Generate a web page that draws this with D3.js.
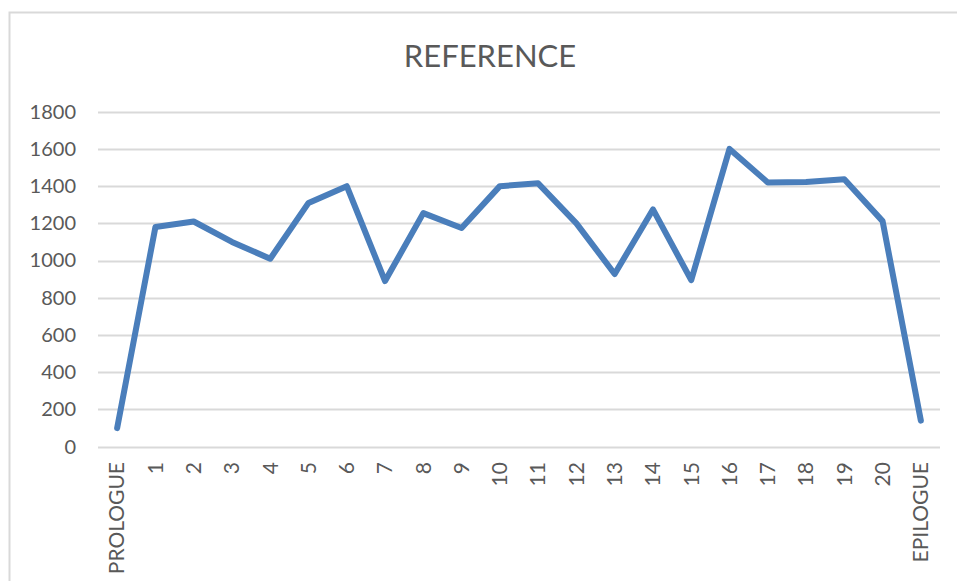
<!DOCTYPE html>
<html lang="en">
  <head>
    <meta charset="utf-8">
    <title>REFERENCE</title>
    <script src="https://d3js.org/d3.v7.min.js"></script>
    <style>
      body { margin: 0; background: #fff; }
      text { font-family: Lato, "Open Sans", sans-serif; fill: #595959; }
    </style>
  </head>

  <body>

    <script>

// Data

  var chapters = ["PROLOGUE", "1", "2", "3", "4", "5", "6", "7", "8", "9", "10",
                  "11", "12", "13", "14", "15", "16", "17", "18", "19", "20", "EPILOGUE"];

  var values = [100, 1180, 1210, 1100, 1010, 1310, 1400, 890, 1255, 1175, 1400,
                1415, 1200, 928, 1275, 895, 1600, 1420, 1422, 1437, 1212, 140];

  var yTicks = [0, 200, 400, 600, 800, 1000, 1200, 1400, 1600, 1800];

// Svg and frame

  var W = 957, H = 581;

  var svg = d3.select("body")
    .append("svg")
      .attr("width", W)
      .attr("height", H);

  svg.append("rect")
      .attr("x", 9.5)
      .attr("y", 12.5)
      .attr("width", W + 20)
      .attr("height", H + 20)
      .attr("fill", "none")
      .attr("stroke", "#d9d9d9")
      .attr("stroke-width", 2);

  svg.append("text")
      .attr("x", 490)
      .attr("y", 67)
      .attr("text-anchor", "middle")
      .style("font-size", "31px")
      .text("REFERENCE");

// Scales

  var x = d3.scaleBand()
      .domain(chapters)
      .range([98, 940])
      .padding(0);

  var y = d3.scaleLinear()
      .domain([0, 1800])
      .range([446.7, 111.7]);

// Gridlines

  svg.append("g")
    .selectAll("line")
    .data(yTicks)
    .enter().append("line")
      .attr("x1", 98)
      .attr("x2", 940)
      .attr("y1", d => Math.round(y(d)) + 0.5)
      .attr("y2", d => Math.round(y(d)) + 0.5)
      .attr("stroke", "#d9d9d9")
      .attr("stroke-width", 2);

// Axes

  var yAxis = svg.append("g")
      .attr("transform", "translate(76,0)")
      .call(d3.axisLeft(y).tickValues(yTicks).tickFormat(d3.format("d"))
        .tickSize(0).tickPadding(0));

  yAxis.select(".domain").remove();
  yAxis.selectAll("text")
      .attr("fill", "#595959")
      .style("font-family", "Lato, sans-serif")
      .style("font-size", "20px");

  var xAxis = svg.append("g")
      .attr("transform", "translate(0,462)")
      .call(d3.axisBottom(x).tickSize(0).tickPadding(0));

  xAxis.select(".domain").remove();
  xAxis.selectAll("text")
      .attr("fill", "#595959")
      .style("font-family", "Lato, sans-serif")
      .style("font-size", "21px")
      .attr("transform", "rotate(-90)")
      .attr("text-anchor", "end")
      .attr("x", 0)
      .attr("y", 0)
      .attr("dy", "0.35em");

// Line

  var line = d3.line()
      .x((d, i) => x(chapters[i]) + x.bandwidth() / 2)
      .y(d => y(d));

  svg.append("path")
      .datum(values)
      .attr("d", line)
      .attr("fill", "none")
      .attr("stroke", "#4a7ebb")
      .attr("stroke-width", 6)
      .attr("stroke-linejoin", "round")
      .attr("stroke-linecap", "round");

    </script>

  </body>

</html>
